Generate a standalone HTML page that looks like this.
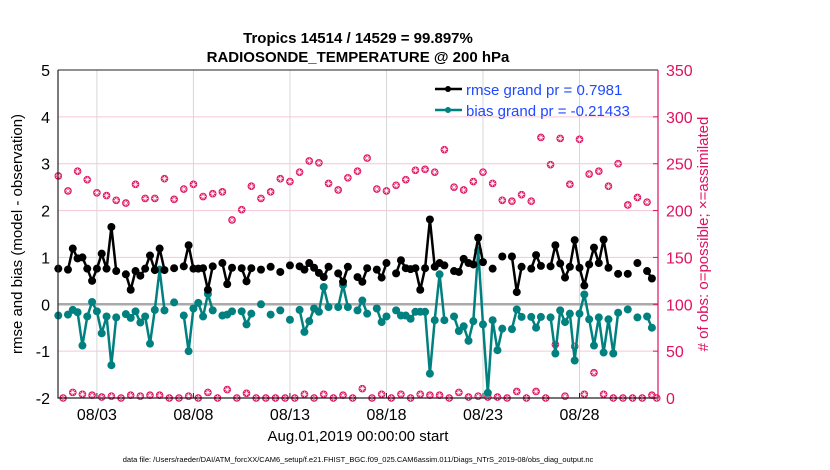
<!DOCTYPE html>
<html><head><meta charset="utf-8"><style>
body{margin:0;background:#fff;}
svg{display:block;font-family:"Liberation Sans",Arial,sans-serif;}
</style></head><body>
<svg id="chart" width="830" height="470">
<text x="358" y="43" text-anchor="middle" font-size="15" font-weight="bold">Tropics 14514 / 14529 = 99.897%</text>
<text x="358" y="62" text-anchor="middle" font-size="15" font-weight="bold">RADIOSONDE_TEMPERATURE @ 200 hPa</text>
<g id="grid"></g>
<g id="series"></g>
<g id="axes"></g>
<text transform="translate(22,234) rotate(-90)" text-anchor="middle" font-size="15">rmse and bias (model - observation)</text>
<text transform="translate(708,234) rotate(-90)" text-anchor="middle" font-size="15" fill="#e0115f"># of obs: o=possible; ×=assimilated</text>
<text x="358" y="441" text-anchor="middle" font-size="15">Aug.01,2019 00:00:00 start</text>
<text x="358" y="462" text-anchor="middle" font-size="7.5">data file: /Users/raeder/DAI/ATM_forcXX/CAM6_setup/f.e21.FHIST_BGC.f09_025.CAM6assim.011/Diags_NTrS_2019-08/obs_diag_output.nc</text>
<g>
<line x1="435" y1="89" x2="462" y2="89" stroke="#000" stroke-width="2.5"/>
<circle cx="448" cy="89" r="3" fill="#000"/>
<text x="466" y="95" font-size="15" fill="#1f49ff">rmse grand pr = 0.7981</text>
<line x1="435" y1="110" x2="462" y2="110" stroke="#00807f" stroke-width="2.5"/>
<circle cx="448" cy="110" r="3" fill="#00807f"/>
<text x="466" y="116" font-size="15" fill="#1f49ff">bias grand pr = -0.21433</text>
</g>
</svg>
<script>
const rmse=[.76,null,.74,1.19,.98,1.0,.76,.50,.76,1.08,.76,1.65,.71,null,.64,.31,.71,.61,.76,1.04,.73,1.19,.73,null,.77,null,.81,1.26,.76,.76,.77,.31,.81,null,.88,.43,.78,null,.77,.49,.77,null,.74,null,.80,null,.69,null,.83,null,.81,.74,.88,.78,.67,.58,.80,null,.66,.48,.80,null,.58,.48,.77,null,.74,.57,.88,null,.66,.94,.77,.75,.77,.31,.77,1.81,.80,.88,.83,null,.71,.69,.97,.88,.85,1.42,.90,null,.76,null,1.02,null,1.02,.26,.80,null,.76,1.05,.82,null,.81,1.26,.87,.57,.80,1.37,.78,.40,.85,1.21,.88,1.38,.78,null,.65,null,.65,null,.88,null,.71,.55,null];
const bias=[-.24,null,-.22,-.12,-.17,-.88,-.26,.05,-.15,-.62,-.26,-1.3,-.28,null,-.21,-.29,-.15,-.39,-.26,-.84,-.12,.74,-.13,null,.04,null,-.24,-1.0,-.09,.03,-.26,.22,-.13,null,-.24,-.22,-.15,null,-.15,-.43,-.2,null,.00,null,-.22,null,-.13,null,-.33,null,-.12,-.59,-.36,-.09,-.16,.37,-.06,null,-.06,.41,-.06,null,-.13,.08,-.2,null,-.09,-.38,-.26,null,-.13,-.24,-.24,-.31,-.16,-.16,-.16,-1.48,-.34,.64,-.34,null,-.26,-.57,-.47,-.78,-.36,1.15,-.43,-1.89,-.34,-.98,-.52,null,-.53,-.11,-.27,null,-.27,-.5,-.27,null,-.28,-1.05,-.13,-.38,-.2,-1.2,-.2,.21,-.32,-.88,-.28,-1.03,-.32,-1.05,-.18,null,-.11,null,-.28,null,-.26,-.5,null];
const counts=[237,0,221,6,242,4,233,3,219,1,216,2,211,0,208,3,228,2,213,3,213,3,234,0,212,0,223,2,228,0,215,6,218,0,220,9,190,0,201,5,226,0,213,0,220,0,234,0,231,0,241,4,253,0,251,4,229,0,222,3,235,0,242,10,256,0,223,4,221,0,227,4,233,0,243,4,244,3,241,3,265,0,225,6,222,1,231,2,241,1,229,1,211,0,210,7,217,0,210,7,278,0,249,57,277,2,228,55,276,4,239,27,242,4,226,0,250,0,206,0,214,0,209,3,0];
const leftTicks=[-2,-1,0,1,2,3,4,5];
const rightTicks=[0,50,100,150,200,250,300,350];
const dateTicks=[2,7,12,17,22,27];
const dateLabels=["08/03","08/08","08/13","08/18","08/23","08/28"];
const stepsPerDay=4;

const NS="http://www.w3.org/2000/svg";
const X0=58,X1=658,Y0=70,Y1=398;
const xIdx=i=>58.3+i*4.826;
const xDay=d=>xIdx(d*stepsPerDay);
const yL=v=>Y1-(v+2)/7*(Y1-Y0);
const yR=c=>Y1-c/350*(Y1-Y0);
function mk(tag,attrs,parent){const e=document.createElementNS(NS,tag);for(const k in attrs)e.setAttribute(k,attrs[k]);parent.appendChild(e);return e;}
const grid=document.getElementById('grid'),ser=document.getElementById('series'),ax=document.getElementById('axes');
leftTicks.forEach(v=>{
  if(v!==-2&&v!==5&&v!==0){const l=mk('line',{x1:X0,x2:X1,y1:yL(v),y2:yL(v),stroke:'#f5c6d6','stroke-width':1},grid);
  
  }
  const t=mk('text',{x:50,y:yL(v)+6,'text-anchor':'end','font-size':16},ax);t.textContent=v;
  
  
});
rightTicks.forEach(c=>{
  mk('line',{x1:X1-5,x2:X1,y1:yR(c),y2:yR(c),stroke:'#e0115f'},ax);
  const t=mk('text',{x:666,y:yR(c)+6,'font-size':16,fill:'#e0115f'},ax);t.textContent=c;
  
  
});
dateTicks.forEach((d,k)=>{
  const x=xDay(d);
  const l=mk('line',{x1:x,x2:x,y1:Y0,y2:Y1,stroke:'#d8d8d8'},grid);
  
  
  mk('line',{x1:x,x2:x,y1:Y1,y2:Y1-5,stroke:'#222'},ax);
  const t=mk('text',{x:x,y:420,'text-anchor':'middle','font-size':16},ax);t.textContent=dateLabels[k];
  
  
});
const z=mk('line',{x1:X0,x2:X1,y1:yL(0),y2:yL(0),stroke:'#aaa','stroke-width':2.5},grid);


mk('path',{d:`M${X0} ${Y0}H${X1}`,stroke:'#222',fill:'none'},ax);
mk('path',{d:`M${X0} ${Y0}V${Y1}H${X1}`,stroke:'#222',fill:'none','stroke-width':1.2},ax);
mk('line',{x1:X1,x2:X1,y1:Y0,y2:Y1,stroke:'#e0115f','stroke-width':1.2},ax);

function line(arr,color,name){
  let d='';let pen=false;
  arr.forEach((v,i)=>{if(v===null){pen=false;return;}d+=(pen?'L':'M')+xIdx(i).toFixed(1)+' '+yL(v).toFixed(1);pen=true;});
  const p=mk('path',{d:d,stroke:color,'stroke-width':2.5,fill:'none','stroke-linejoin':'round'},ser);
  
  
  arr.forEach((v,i)=>{if(v===null)return;
    const c=mk('circle',{cx:xIdx(i),cy:yL(v),r:4,fill:color},ser);
    
    });
}
counts.forEach((c,i)=>{
  const x=xIdx(i),y=yR(c);
  const g=mk('g',{},ser);
  
  
  mk('circle',{cx:x,cy:y,r:3.8,fill:'#e0115f'},g);
  mk('path',{d:`M${x-3} ${y}H${x+3}M${x} ${y-3}V${y+3}M${x-2} ${y-2}L${x+2} ${y+2}M${x-2} ${y+2}L${x+2} ${y-2}`,stroke:'#fff','stroke-width':0.7},g);
});
line(bias,'#00807f','bias');
line(rmse,'#000','rmse');
</script>
</body></html>
